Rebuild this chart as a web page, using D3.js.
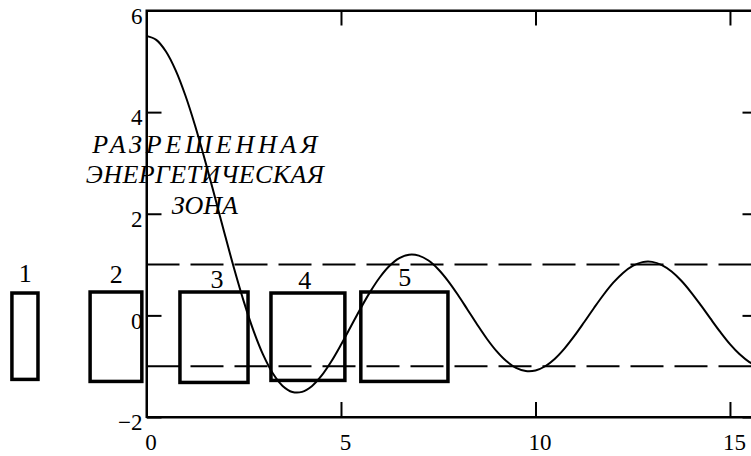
<!DOCTYPE html>
<html>
<head>
<meta charset="utf-8">
<script src="https://cdn.jsdelivr.net/npm/d3@7"></script>
<style>
  body { margin: 0; background: #fff; }
  svg { display: block; }
  svg text { font-family: "Liberation Serif", "Times New Roman", serif; fill: #000; }
</style>
</head>
<body>
<svg id="chart" width="751" height="456"></svg>
<script>
// curve, x step 0.25
var curveX = [0,0.25,0.5,0.75,1,1.25,1.5,1.75,2,2.25,2.5,2.75,3,3.25,3.5,3.75,4,4.25,4.5,4.75,
  5,5.25,5.5,5.75,6,6.25,6.5,6.75,7,7.25,7.5,7.75,8,8.25,8.5,8.75,9,9.25,9.5,9.75,
  10,10.25,10.5,10.75,11,11.25,11.5,11.75,12,12.25,12.5,12.75,13,13.25,13.5,13.75,14,14.25,14.5,14.75,
  15,15.25,15.5,15.75];
var curveY = [5.5,5.422,5.193,4.822,4.327,3.732,3.063,2.352,1.630,0.928,0.276,-0.300,-0.778,-1.144,-1.388,-1.507,-1.505,-1.394,-1.188,-0.909,
  -0.579,-0.224,0.132,0.463,0.750,0.975,1.126,1.193,1.176,1.079,0.909,0.681,0.411,0.117,-0.179,-0.460,-0.705,-0.900,-1.033,-1.095,
  -1.084,-1.001,-0.852,-0.649,-0.405,-0.136,0.141,0.406,0.643,0.836,0.974,1.048,1.053,0.990,0.863,0.681,0.455,0.201,-0.065,-0.325,
  -0.565,-0.766,-0.919,-1.011];
var bandLevels = [1, -1];
var xTicks = [0, 5, 10, 15];
var yTicks = [-2, 0, 2, 4, 6];

// numbered boxes, in chart units
var boxNames = ["1", "2", "3", "4", "5"];
var boxX0 = [-3.46, -1.45, 0.86, 3.20, 5.51];
var boxX1 = [-2.79, -0.12, 2.61, 5.10, 7.75];
var boxTop = [0.44, 0.46, 0.46, 0.44, 0.46];
var boxBottom = [-1.26, -1.30, -1.32, -1.28, -1.30];
var boxLabelX = [-3.12, -0.78, 1.81, 4.07, 6.64];
var boxLabelY = [0.66, 0.64, 0.54, 0.52, 0.58];

var noteLines = ["РАЗРЕШЕННАЯ", "ЭНЕРГЕТИЧЕСКАЯ", "ЗОНА"];

var svg = d3.select("#chart");
var x = d3.scaleLinear().domain([0, 15.708]).range([146.5, 757.5]);
var y = d3.scaleLinear().domain([-2, 6]).range([417, 10.5]);
var tickLen = 15;
var serif = "Liberation Serif";

// frame
svg.append("rect")
  .attr("x", x(0)).attr("y", y(6))
  .attr("width", x(15.708) - x(0)).attr("height", y(-2) - y(6))
  .attr("fill", "none").attr("stroke", "#000").attr("stroke-width", 2);

var bottomAxis = d3.axisBottom(x).tickValues(xTicks).tickSizeInner(-tickLen).tickSizeOuter(0).tickPadding(tickLen + 4);
var topAxis = d3.axisTop(x).tickValues(xTicks).tickSizeInner(-tickLen).tickSizeOuter(0).tickFormat("");
var leftAxis = d3.axisLeft(y).tickValues(yTicks).tickSizeInner(-tickLen).tickSizeOuter(0).tickPadding(tickLen + 4)
  .tickFormat(d => d < 0 ? "\u2212" + Math.abs(d) : d);
var rightAxis = d3.axisRight(y).tickValues(yTicks).tickSizeInner(-tickLen).tickSizeOuter(0).tickFormat("");

function styleAxis(g) {
  g.attr("font-family", serif).attr("font-size", 23);
  g.select(".domain").attr("stroke-width", 2);
  g.selectAll(".tick line").attr("stroke-width", 2);
  g.selectAll(".tick text").attr("font-family", serif).attr("font-size", 23).attr("fill", "#000");
}
svg.append("g").attr("transform", "translate(0," + y(-2) + ")").call(bottomAxis).call(styleAxis)
  .selectAll(".tick text").attr("dx", 4).attr("dy", "0.6em");
svg.append("g").attr("transform", "translate(0," + y(6) + ")").call(topAxis).call(styleAxis);
svg.append("g").attr("transform", "translate(" + x(0) + ",0)").call(leftAxis).call(styleAxis)
  .selectAll(".tick text").attr("dy", "0.55em").attr("x", -4);
svg.append("g").attr("transform", "translate(" + x(15.708) + ",0)").call(rightAxis).call(styleAxis);

// allowed band limits
svg.selectAll(".band")
  .data(bandLevels)
  .enter()
  .append("line")
  .attr("class", "band")
  .attr("x1", x(0)).attr("x2", x(15.708))
  .attr("y1", d => y(d)).attr("y2", d => y(d))
  .attr("stroke", "#000").attr("stroke-width", 2)
  .attr("stroke-dasharray", "33 11");

// curve
var line = d3.line()
  .x((d, i) => x(curveX[i]))
  .y(d => y(d))
  .curve(d3.curveCatmullRom);
svg.append("path")
  .datum(curveY)
  .attr("d", line)
  .attr("fill", "none").attr("stroke", "#000").attr("stroke-width", 2);

// boxes
svg.selectAll(".box")
  .data(boxNames)
  .enter()
  .append("rect")
  .attr("class", "box")
  .attr("x", (d, i) => x(boxX0[i]))
  .attr("y", (d, i) => y(boxTop[i]))
  .attr("width", (d, i) => x(boxX1[i]) - x(boxX0[i]))
  .attr("height", (d, i) => y(boxBottom[i]) - y(boxTop[i]))
  .attr("fill", "none").attr("stroke", "#000").attr("stroke-width", 3.5);

svg.selectAll(".boxlabel")
  .data(boxNames)
  .enter()
  .append("text")
  .attr("class", "boxlabel")
  .attr("x", (d, i) => x(boxLabelX[i]))
  .attr("y", (d, i) => y(boxLabelY[i]))
  .attr("text-anchor", "middle")
  .attr("font-family", serif)
  .attr("font-size", 26)
  .text(d => d);

// note
var noteWidths = [225, 238, 66];
var noteBase = [3.19, 2.6, 2.0];
svg.selectAll(".note")
  .data(noteLines)
  .enter()
  .append("text")
  .attr("class", "note")
  .attr("x", x(1.5))
  .attr("y", (d, i) => y(noteBase[i]))
  .attr("text-anchor", "middle")
  .attr("font-family", serif)
  .attr("font-style", "italic")
  .attr("font-size", 26)
  .attr("textLength", (d, i) => noteWidths[i])
  .attr("lengthAdjust", "spacing")
  .text(d => d);
</script>
</body>
</html>
